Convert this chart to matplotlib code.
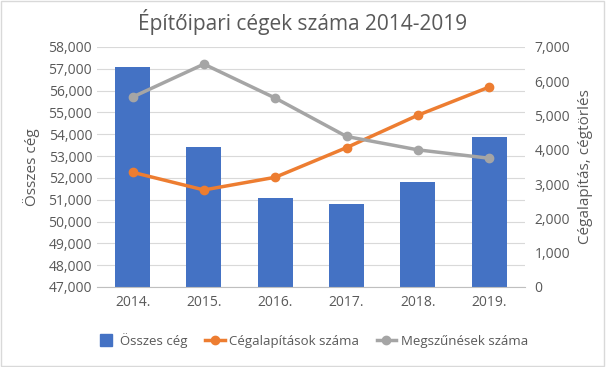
import matplotlib
matplotlib.use("Agg")
import matplotlib.pyplot as plt
from matplotlib.lines import Line2D

years = ["2014.", "2015.", "2016.", "2017.", "2018.", "2019."]
osszes = [57060, 53400, 51090, 50790, 51800, 53860]
alapitas = [3345, 2830, 3200, 4065, 5010, 5830]
megszunes = [5540, 6500, 5510, 4390, 4000, 3755]

left_ticks = list(range(47000, 58001, 1000))
right_ticks = list(range(0, 7001, 1000))

BLUE = "#4472C4"
ORANGE = "#ED7D31"
GRAY = "#A5A5A5"
TXT = "#595959"

plt.rcParams['font.family'] = ['Open Sans', 'DejaVu Sans']

fig = plt.figure(figsize=(6.06, 3.67), dpi=100)
ax = fig.add_axes([0.160, 0.218, 0.706, 0.654])
x = list(range(len(years)))
ax.bar(x, osszes, width=0.49, color=BLUE, zorder=2)
ax.set_ylim(47000, 58000)
ax.set_yticks(left_ticks)
ax.set_yticklabels([f"{v:,}" for v in left_ticks])
ax.set_xlim(-0.5, len(years) - 0.5)
ax.set_xticks(x)
ax.set_xticklabels(years)
ax.grid(axis='y', color="#D9D9D9", linewidth=0.8, zorder=0)
ax.set_axisbelow(True)
for s in ['top', 'right', 'left']:
    ax.spines[s].set_visible(False)
ax.spines['bottom'].set_color("#BFBFBF")
ax.tick_params(axis='both', length=0, colors=TXT, labelsize=10)
ax.tick_params(axis='x', pad=6)
ax.set_ylabel("Összes cég", color=TXT, fontsize=11, labelpad=6)

ax2 = ax.twinx()
ax2.plot(x, alapitas, color=ORANGE, lw=2.5, marker='o', ms=6, zorder=3)
ax2.plot(x, megszunes, color=GRAY, lw=2.5, marker='o', ms=6, zorder=3)
ax2.set_ylim(0, 7000)
ax2.set_yticks(right_ticks)
ax2.set_yticklabels([f"{v:,}" for v in right_ticks])
for s in ['top', 'right', 'left', 'bottom']:
    ax2.spines[s].set_visible(False)
ax2.tick_params(axis='y', length=0, colors=TXT, labelsize=10, pad=7)
ax2.set_ylabel("Cégalapítás, cégtörlés", color=TXT, fontsize=11, labelpad=6)

fig.suptitle("Építőipari cégek száma 2014-2019", color=TXT, fontsize=15, y=0.975)

handles = [
    Line2D([0], [0], color=BLUE, marker='s', ms=8, linestyle='None'),
    Line2D([0], [0], color=ORANGE, lw=2.5, marker='o', ms=6),
    Line2D([0], [0], color=GRAY, lw=2.5, marker='o', ms=6),
]
labels = ["Összes cég", "Cégalapítások száma", "Megszűnések száma"]
fig.legend(handles, labels, loc='center', bbox_to_anchor=(0.515, 0.072), ncol=3,
           frameon=False, fontsize=9.5, handlelength=1.5, handletextpad=0.35,
           columnspacing=1.3, labelcolor=TXT)

fig.patches.append(plt.Rectangle((0.002, 0.003), 0.995, 0.993, transform=fig.transFigure,
                                 fill=False, edgecolor="#D9D9D9", lw=1))
fig.savefig("out.png", dpi=100)
